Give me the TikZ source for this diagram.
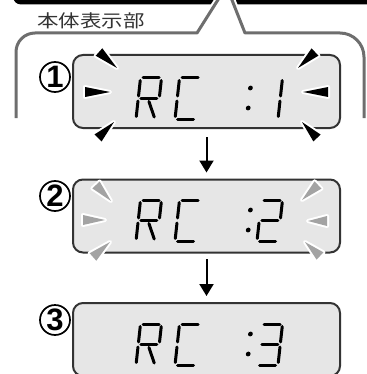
\documentclass[tikz,border=0pt]{standalone}
\usepackage{fontspec}
\newfontfamily\jpfont{Noto Sans CJK JP}
\newfontfamily\numfont{Liberation Sans}
\usetikzlibrary{arrows.meta,calc}
\definecolor{lcdfill}{HTML}{E6E6E6}
\definecolor{lcdedge}{HTML}{333333}
\definecolor{calloutgray}{HTML}{6E6E6E}
\definecolor{blinkgray}{HTML}{A3A3A3}

% segments of one LCD character, origin at the lower left
\newcommand{\lcdsega}{\draw[seg] (2.5,-41) -- (18.5,-41);}
\newcommand{\lcdsegb}{\draw[seg] (21,-38.5) -- (21,-23);}
\newcommand{\lcdsegc}{\draw[seg] (21,-18) -- (21,-2.5);}
\newcommand{\lcdsegd}{\draw[seg] (2.5,0) -- (18.5,0);}
\newcommand{\lcdsege}{\draw[seg] (0,-18) -- (0,-2.5);}
\newcommand{\lcdsegf}{\draw[seg] (0,-38.5) -- (0,-23);}
\newcommand{\lcdsegg}{\draw[seg] (2.5,-20.5) -- (18.5,-20.5);}
\newcommand{\lcdsegr}{\draw[seg] (11,-17.5) -- (18,-2);}
\newcommand{\lcdsegp}{\fill (0,-31) circle (2.4) (0,-11) circle (2.4);}
% blinking mark: wide end, tip, colour
\newcommand{\blink}[3]{\fill[#3,preaction={draw=white,line width=2pt,line join=round}]
  (#2) -- ($(#1)!2.5pt!90:(#2)$) -- ($(#1)!2.5pt!-90:(#2)$) -- cycle;}

\tikzset{
  lcd/.style={draw=lcdedge,fill=lcdfill,line width=1pt,rounded corners=5pt,
    minimum width=133.5pt,minimum height=36.5pt,inner sep=0pt},
  stepnum/.style={circle,draw=black,line width=0.85pt,minimum size=15pt,inner sep=0pt,
    font=\numfont\bfseries\fontsize{15.5}{15.5}\selectfont},
  seg/.style={line width=1.5pt,line cap=round},
  flow/.style={-{Triangle[width=7pt,length=6pt]},line width=1pt},
  callout/.style={draw=calloutgray,line width=1.5pt,line join=round},
  title/.style={anchor=west,inner sep=0pt,font=\jpfont\fontsize{8.8}{8.8}\selectfont,
    text=black!80,xscale=1.22,transform shape},
  pics/glyph/.style={code={\begin{scope}[xslant=0.11]
    \foreach \s in {#1}{\csname lcdseg\s\endcsname}\end{scope}}},
}

\begin{document}
\begin{tikzpicture}[x=0.5pt,y=-0.5pt]
\useasboundingbox (0,0) rectangle (366,374);
% black bar and callout
\fill[black,rounded corners=4pt] (13,-12) rectangle (375,4.5);
\filldraw[white,line width=3.5pt] (197,33) -- (221,-5) -- (230,-5) -- (245,33);
\draw[callout] (16,118) -- (16,52) arc[start angle=180,end angle=270,radius=19]
  -- (197,33) -- (221,-5) (230,-5) -- (245,33) -- (340,33)
  arc[start angle=270,end angle=360,radius=24] -- (364,118);
\node[title] (title) at (37,20.5) {本体表示部};

% displays
\node[lcd] (lcd1) at (206.5,91.5) {};
\node[lcd] (lcd2) at (206.5,216) {};
\node[lcd] (lcd3) at (206.5,339.5) {};

\node[stepnum] (n1) at (55,77) {1};
\node[stepnum] (n2) at (55,196) {2};
\node[stepnum] (n3) at (55,320) {3};

\foreach \d/\v/\k in {lcd1/27.5/1, lcd2/25/2, lcd3/25.5/3}{
  \pic at ($(\d.center)+(-70.5,\v)$) {glyph={a,b,f,e,g,r}};
  \pic at ($(\d.center)+(-31.5,\v)$) {glyph={a,f,e,d}};
  \pic at ($(\d.center)+(40.5,\v)$) {glyph={p}};
}
\pic at ($(lcd1.center)+(50.5,27.5)$) {glyph={b,c}};
\pic at ($(lcd2.center)+(50.5,25)$) {glyph={a,b,g,e,d}};
\pic at ($(lcd3.center)+(50.5,25.5)$) {glyph={a,b,g,c,d}};

% blinking marks
\foreach \wx/\wy/\tx/\ty in {99/52/117/68, 85/92/110/92, 98/138/114/122,
  315/52/298/68, 328/92/303/92, 317/138/302/122}
  \blink{\wx,\wy}{\tx,\ty}{black};
\foreach \wx/\wy/\tx/\ty in {96/185/111/201, 83/220/105/220, 93/257/110/242,
  318/185/302/200, 327/221/308/221, 320/256/305/242}
  \blink{\wx,\wy}{\tx,\ty}{blinkgray};

\draw[flow] ([yshift=-4pt]lcd1.south) -- ([yshift=3pt]lcd2.north);
\draw[flow] ([yshift=-2.75pt]lcd2.south) -- ([yshift=3pt]lcd3.north);
\end{tikzpicture}
\end{document}
